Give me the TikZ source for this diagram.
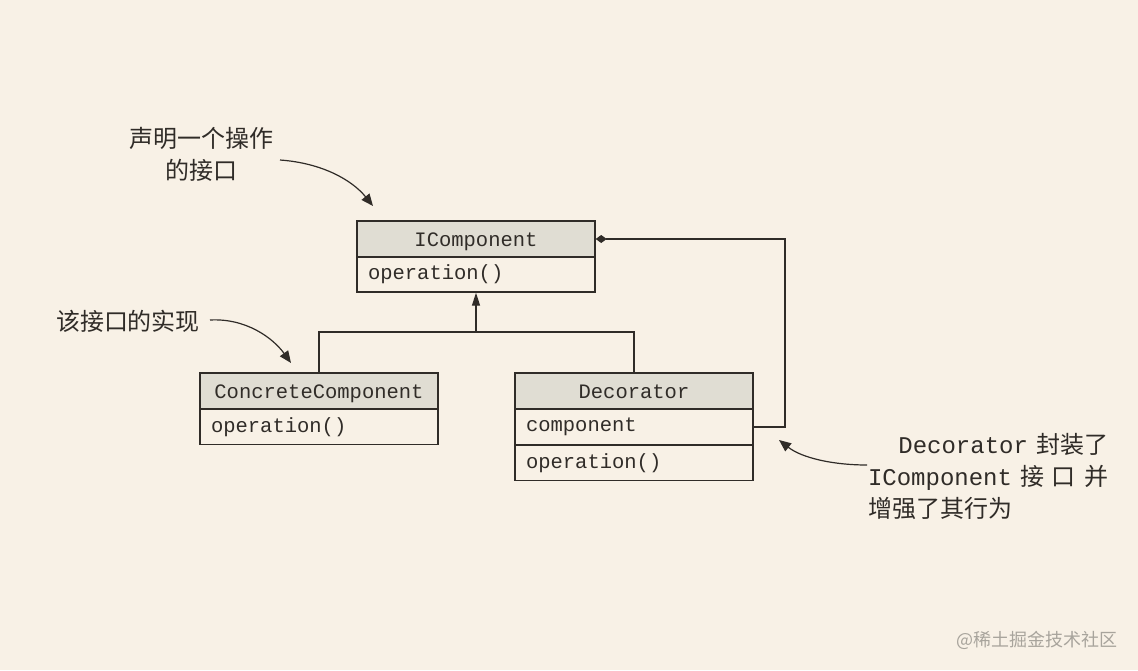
\documentclass[tikz,border=0pt]{standalone}
\usepackage{fontspec}
\usetikzlibrary{arrows.meta}
\newfontfamily\cjk{Noto Sans CJK SC}
\newfontfamily\code{Liberation Mono}
\definecolor{bgc}{RGB}{248,241,230}
\definecolor{headc}{RGB}{224,221,211}
\definecolor{linec}{RGB}{48,44,40}
\definecolor{markc}{RGB}{168,164,156}
\tikzset{
  umlhead/.style={draw=linec, line width=1.4pt, fill=headc, minimum width=238pt, minimum height=36pt, inner sep=0pt, text depth=0pt, font=\code\fontsize{20.5}{24}\selectfont, text=linec},
  umlrow/.style={draw=linec, line width=1.4pt, minimum height=35pt, text width=216pt, inner xsep=11pt, inner ysep=0pt, align=left, font=\code\fontsize{20.5}{24}\selectfont, text=linec},
  conn/.style={draw=linec, line width=1.4pt},
  note/.style={inner sep=0pt, font=\cjk\fontsize{24}{32}\selectfont, text=linec},
  notearrow/.style={draw=linec, line width=1.2pt, -{Triangle[length=12pt,width=10pt]}},
}
\begin{document}
\begin{tikzpicture}[x=1pt,y=-1pt]
\fill[bgc] (0,0) rectangle (1138,670);
\useasboundingbox (0,0) rectangle (1138,670);
% IComponent
\node[umlhead] (ich) at (476,239) {\raisebox{-2pt}{IComponent}};
\node[umlrow] (icb) at (476,274.5) {operation()};
% ConcreteComponent
\node[umlhead] (cch) at (319,391) {\raisebox{-2pt}{ConcreteComponent}};
\node[umlrow] (ccb) at (319,427) {operation()};
% Decorator
\node[umlhead] (dech) at (634,391) {\raisebox{-2pt}{Decorator}};
\node[umlrow] (decc) at (634,427) {component};
\node[umlrow] (deco) at (634,463) {operation()};
% inheritance
\coordinate (j) at (476,332);
\draw[conn] (cch.north) |- (j) -| (dech.north);
\draw[conn, -{Triangle[length=13pt,width=8pt]}] (j) -- (icb.south);
% composition
\coordinate (cr) at (785,0);
\draw[conn, {Diamond[length=11pt,width=8pt]}-] (ich.east) -- (ich.east -| cr) -- (decc.east -| cr) -- (decc.east);
% annotations
\node[note, align=center] (n1) at (201,154) {声明一个操作\\的接口};
\node[note] (n2) at (128,321) {该接口的实现};
\node[note, text width=240pt, align=left] (n3) at (988,476)
  {\hfill{\code Decorator} 封装了\\{\code IComponent}\hfill 接\hfill 口\hfill 并\\增强了其行为};
\coordinate (a1s) at (280,160);
\coordinate (a1e) at (373,206);
\draw[notearrow] (a1s) .. controls (322,163) and (352,180) .. (a1e);
\coordinate (a2s) at (210,320);
\coordinate (a2e) at (291,363);
\draw[notearrow] (a2s) .. controls (246,318) and (273,338) .. (a2e);
\coordinate (a3s) at (867,465);
\coordinate (a3e) at (779,440);
\draw[notearrow] (a3s) .. controls (833,465) and (802,458) .. (a3e);
% watermark
\node[inner sep=0pt, font=\cjk\fontsize{18}{20}\selectfont, text=markc, anchor=east] (wm) at (1118,640) {@稀土掘金技术社区};
\end{tikzpicture}
\end{document}
